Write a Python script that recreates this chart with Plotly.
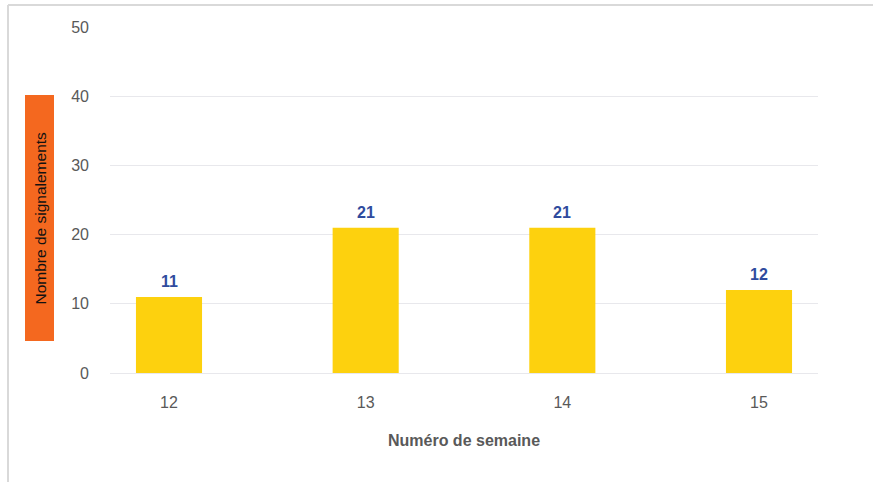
import plotly.graph_objects as go

weeks = ["12", "13", "14", "15"]
counts = [11, 21, 21, 12]
y_ticks = [0, 10, 20, 30, 40, 50]

L, R, T, B = 110, 818, 27, 373
W, H = 873, 482

def px(x):
    return (x - L) / (R - L)

def py(y):
    return (B - y) / (B - T)

FONT = "Liberation Sans, Arial"

fig = go.Figure()
fig.add_trace(go.Bar(
    x=weeks, y=counts, width=0.336,
    marker=dict(color="#FDD10E", line=dict(width=0)),
    hoverinfo="x+y",
))

for i, c in enumerate(counts):
    fig.add_annotation(x=i, y=c, xref="x", yref="y", text=f"<b>{c}</b>",
                       showarrow=False, yanchor="bottom", yshift=5,
                       font=dict(family=FONT, size=16, color="#2F4B9E"))

fig.update_layout(
    width=W, height=H,
    margin=dict(l=L, r=W - R, t=T, b=H - B),
    paper_bgcolor="white", plot_bgcolor="white",
    showlegend=False,
    font=dict(family=FONT, color="#595959"),
    xaxis=dict(
        type="category", range=[-0.3, 3.3],
        showgrid=False, zeroline=False, showline=False, ticks="",
        tickfont=dict(size=16, color="#595959"),
        ticklabelstandoff=18,
        title=dict(text="<b>Numéro de semaine</b>", font=dict(size=16, color="#595959"), standoff=24),
    ),
    yaxis=dict(
        range=[0, 50], tickvals=y_ticks,
        showgrid=True, gridcolor="#E8E8EC", gridwidth=1,
        zeroline=True, zerolinecolor="#E8E8EC", zerolinewidth=1,
        showline=False, ticks="",
        tickfont=dict(size=16, color="#595959"),
        ticklabelstandoff=20,
    ),
)

# frame lines (top and left)
fig.add_shape(type="line", xref="paper", yref="paper",
              x0=px(8), x1=px(W + 5), y0=py(5), y1=py(5),
              line=dict(color="#D9D9D9", width=2))
fig.add_shape(type="line", xref="paper", yref="paper",
              x0=px(8), x1=px(8), y0=py(5), y1=py(H + 5),
              line=dict(color="#D9D9D9", width=2))

# orange y-axis title box
fig.add_shape(type="rect", xref="paper", yref="paper",
              x0=px(25), x1=px(54), y0=py(341), y1=py(95),
              fillcolor="#F4681F", line=dict(width=0), layer="above")
fig.add_annotation(xref="paper", yref="paper", x=px(39.5), y=py(218),
                   text="Nombre de signalements", textangle=-90, showarrow=False,
                   font=dict(family=FONT, size=15.5, color="#111111"),
                   xanchor="center", yanchor="middle")

fig.write_html("out.html", config={"displayModeBar": False},
               post_script="document.body.style.margin='0';document.body.style.overflow='hidden';")
